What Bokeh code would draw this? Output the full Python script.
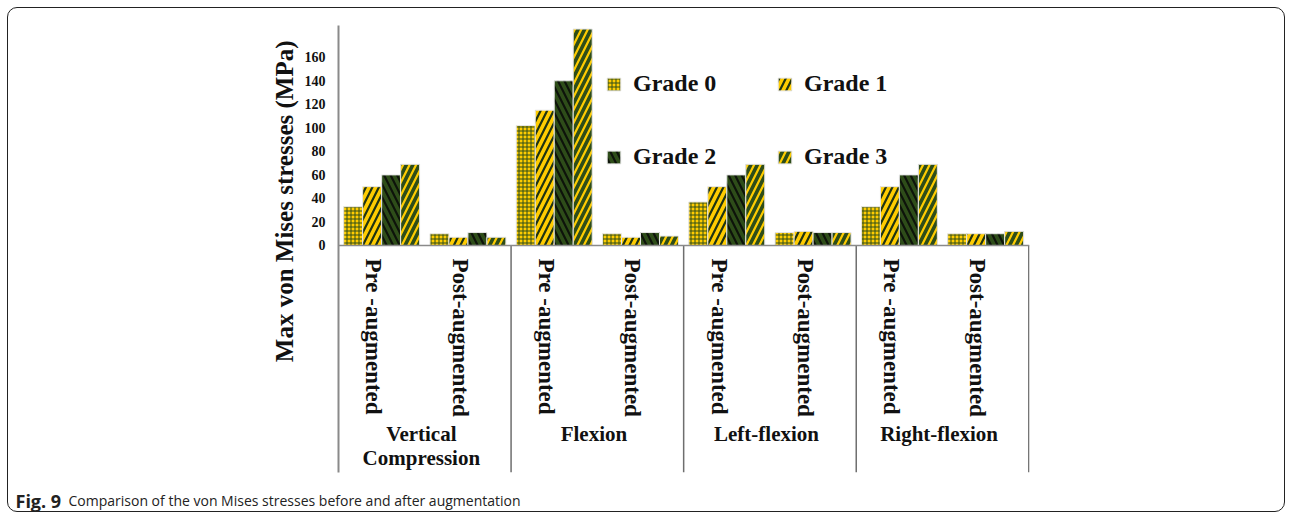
import math
from bokeh.plotting import figure
from bokeh.layouts import column
from bokeh.models import Range1d, FixedTicker, Span, Title, Legend, LegendItem, ColumnDataSource
from bokeh.core.properties import value
from bokeh.embed import file_html
from bokeh.resources import INLINE

# ---------------- data ----------------
groups = ["Vertical\nCompression", "Flexion", "Left-flexion", "Right-flexion"]
subgroups = ["Pre -augmented", "Post-augmented"]
grades = ["Grade 0", "Grade 1", "Grade 2", "Grade 3"]
# order: VC pre, VC post, Flex pre, Flex post, LF pre, LF post, RF pre, RF post
grade0 = [33, 10, 102, 10, 37, 11, 33, 10]
grade1 = [50, 7, 115, 7, 50, 12, 50, 10]
grade2 = [60, 11, 140, 11, 60, 11, 60, 10]
grade3 = [69, 7, 184, 8, 69, 11, 69, 12]
y_ticks = [0, 20, 40, 60, 80, 100, 120, 140, 160]
y_title = "Max von Mises stresses (MPa)"
caption_bold = "Fig. 9"
caption_text = "Comparison of the von Mises stresses before and after augmentation"

series = [grade0, grade1, grade2, grade3]

# ---------------- style ----------------
YEL = "#FFCC00"
GRN = "#2E4D19"
BLK = "#0d130a"
SERIF = "Liberation Serif"
styles = [
    dict(fill_color=YEL, hatch_pattern="+", hatch_color=GRN, hatch_scale=4, hatch_weight=1),
    dict(fill_color=YEL, hatch_pattern="/", hatch_color="#1f3312", hatch_scale=13, hatch_weight=2.2),
    dict(fill_color=GRN, hatch_pattern="\\", hatch_color=BLK, hatch_scale=13, hatch_weight=2.2),
    dict(fill_color=GRN, hatch_pattern="/", hatch_color=YEL, hatch_scale=13, hatch_weight=2.2),
]

W, H_MAIN, H_CAP = 1292, 490, 29
p = figure(width=W, height=H_MAIN, output_backend="svg", toolbar_location=None,
           x_range=Range1d(0, 4.004), y_range=Range1d(-193, 187),
           min_border_left=338, min_border_right=263, min_border_top=25, min_border_bottom=18,
           x_axis_location=None)
p.outline_line_color = None
p.xgrid.visible = False
p.ygrid.visible = False

yax = p.yaxis[0]
yax.ticker = FixedTicker(ticks=y_ticks)
yax.axis_line_color = "#8a8a8a"
yax.axis_line_width = 2
yax.major_tick_line_color = None
yax.major_tick_out = 0
yax.major_tick_in = 0
yax.minor_tick_line_color = None
yax.major_label_standoff = 13
yax.major_label_text_font = SERIF
yax.major_label_text_font_style = "bold"
yax.major_label_text_font_size = "14px"
yax.major_label_text_color = "#111111"

# y title (left side panel, outside the axis)
p.add_layout(Title(text=y_title, align="right", offset=15, text_font=SERIF,
                   text_font_style="bold", text_font_size="25px",
                   text_color="#111111", standoff=7), "left")

# bars
nsub = len(subgroups)
bar_w = 0.11
renderers = []
for k, vals in enumerate(series):
    xs = []
    for i in range(len(vals)):
        g, s = divmod(i, nsub)
        xs.append(g + 0.25 + 0.5 * s + (k - 1.5) * bar_w)
    src = ColumnDataSource(dict(x=xs, top=vals))
    r = p.vbar(x="x", top="top", width=bar_w, bottom=0, source=src,
               line_color="#e6e6e6", line_width=1, **styles[k])
    renderers.append(r)

# category area lines
p.add_layout(Span(location=0, dimension="width", line_color="#8a8a8a", line_width=1.5))
sep_x = [float(g + 1) for g in range(len(groups))]
p.segment(x0=sep_x, x1=sep_x, y0=[0] * len(sep_x), y1=[-193] * len(sep_x),
          line_color="#6e6e6e", line_width=1.5)

# sub labels
sub_x, sub_t = [], []
for g in range(len(groups)):
    for s, name in enumerate(subgroups):
        sub_x.append(g + 0.25 + 0.5 * s - 0.045)
        sub_t.append(name)
p.text(x=sub_x, y=[0] * len(sub_x), text=sub_t, angle=-math.pi / 2, y_offset=13,
       text_align="left", text_baseline="middle", text_font=value(SERIF),
       text_font_style="bold", text_font_size="23px", text_color="#111111")

# group labels
grp_x = [g + 0.5 - 0.02 for g in range(len(groups))]
p.text(x=grp_x, y=[0] * len(groups), text=groups, y_offset=177,
       text_align="center", text_baseline="top", text_font=value(SERIF),
       text_font_style="bold", text_font_size="21px", text_color="#111111",
       text_line_height=0.98)

# legend (2 x 2, row-wise: Grade 0, Grade 1 / Grade 2, Grade 3)
order = [0, 2, 1, 3]
items = [LegendItem(label=grades[k], renderers=[renderers[k]]) for k in order]
leg = Legend(items=items, ncols=2, location=(267, 302),
             glyph_width=17, glyph_height=16, label_standoff=11, label_width=97,
             label_height=16, spacing=46, padding=0, margin=0,
             border_line_color=None, background_fill_alpha=0,
             label_text_font=SERIF, label_text_font_style="bold",
             label_text_font_size="24px", label_text_color="#111111")
p.add_layout(leg, "center")

# caption strip (separate figure below the chart)
c = figure(width=W, height=H_CAP, output_backend="svg", toolbar_location=None,
           x_range=Range1d(0, W), y_range=Range1d(0, H_CAP),
           min_border=0, x_axis_location=None, y_axis_location=None)
c.outline_line_color = None
c.xgrid.visible = False
c.ygrid.visible = False
c.text(x=[15], y=[H_CAP - 10], text=[caption_bold], text_align="left", text_baseline="middle",
       text_font=value("Open Sans"), text_font_style="bold", text_font_size="18px",
       text_color="#222222")
c.text(x=[68], y=[H_CAP - 10], text=[caption_text], text_align="left", text_baseline="middle",
       text_font=value("Open Sans"), text_font_size="14px", text_color="#222222")

for fig in (p, c):
    if "frame_align" in fig.properties():
        fig.frame_align = False
    fig.border_fill_color = None
    fig.background_fill_color = None

layout = column(p, c, spacing=0,
                styles={"outline": "1.5px solid #222222", "outline-offset": "-8px",
                        "border-radius": "17px", "background-color": "white"})
open("out.html", "w").write(file_html(layout, INLINE))
